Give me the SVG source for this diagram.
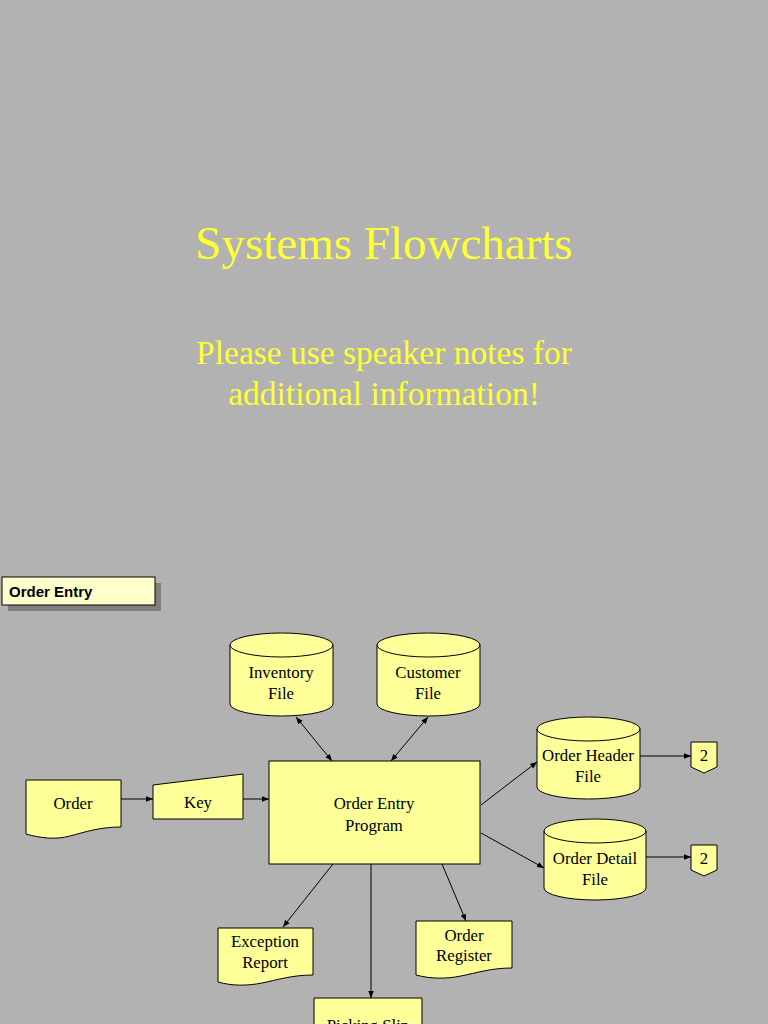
<svg xmlns="http://www.w3.org/2000/svg" width="768" height="1024" viewBox="0 0 768 1024">
<defs>
<style>
.n{fill:#ffff99;stroke:#000;stroke-width:1}
.t{font-family:"Liberation Serif",serif;font-size:16.8px;fill:#000;text-anchor:middle}
.c{stroke:#000;stroke-width:1;fill:none;marker-end:url(#a)}
.h{font-family:"Liberation Serif",serif;fill:#ffff33;text-anchor:middle}
</style>
<marker id="a" viewBox="0 0 10 10" refX="10" refY="5" markerWidth="7" markerHeight="7" orient="auto"><path d="M0,1 L10,5 L0,9 z" fill="#000"/></marker>
<marker id="b" viewBox="0 0 10 10" refX="0" refY="5" markerWidth="7" markerHeight="7" orient="auto"><path d="M10,1 L0,5 L10,9 z" fill="#000"/></marker>
</defs>
<rect width="768" height="1024" fill="#b2b2b2"/>
<text class="h" x="384" y="259" font-size="47">Systems Flowcharts</text>
<text class="h" x="384" y="364" font-size="33.5">Please use speaker notes for</text>
<text class="h" x="384" y="405" font-size="33.5">additional information!</text>

<g id="label">
<rect x="8" y="583" width="153" height="28" fill="#808080"/>
<rect x="2" y="577" width="153" height="28" fill="#ffffcc" stroke="#000"/>
<text x="9" y="597" font-family="Liberation Sans,sans-serif" font-size="15" font-weight="bold">Order Entry</text>
</g>

<g id="connectors">
<line class="c" x1="296" y1="717" x2="332" y2="761" marker-start="url(#b)"/>
<line class="c" x1="428" y1="717" x2="391" y2="761" marker-start="url(#b)"/>
<line class="c" x1="121" y1="799" x2="153" y2="799"/>
<line class="c" x1="243" y1="799" x2="269" y2="799"/>
<line class="c" x1="481" y1="805" x2="537" y2="762"/>
<line class="c" x1="481" y1="833" x2="544" y2="868"/>
<line class="c" x1="640" y1="756" x2="691" y2="756"/>
<line class="c" x1="646" y1="857" x2="691" y2="857"/>
<line class="c" x1="333" y1="864" x2="283" y2="927"/>
<line class="c" x1="371" y1="864" x2="371" y2="998"/>
<line class="c" x1="442" y1="864" x2="466" y2="921"/>
</g>

<g id="inventory">
<path class="n" d="M230,645 A51.5,12 0 0 1 333,645 L333,704 A51.5,12 0 0 1 230,704 Z"/>
<path d="M230,645 A51.5,12 0 0 0 333,645" fill="none" stroke="#000"/>
<text class="t" x="281" y="678">Inventory</text>
<text class="t" x="281" y="699">File</text>
</g>
<g id="customer">
<path class="n" d="M377,645 A51.5,12 0 0 1 480,645 L480,704 A51.5,12 0 0 1 377,704 Z"/>
<path d="M377,645 A51.5,12 0 0 0 480,645" fill="none" stroke="#000"/>
<text class="t" x="428" y="678">Customer</text>
<text class="t" x="428" y="699">File</text>
</g>
<g id="order">
<path class="n" d="M26,780 L121,780 L121,827 C100,827 85,832 70,836 C55,840 40,838 26,834 Z"/>
<text class="t" x="73" y="809" font-size="15">Order</text>
</g>
<g id="key">
<path class="n" d="M153,785 L243,774 L243,819 L153,819 Z"/>
<text class="t" x="198" y="808">Key</text>
</g>
<g id="program">
<rect class="n" x="269" y="761" width="211" height="103"/>
<text class="t" x="374" y="809">Order Entry</text>
<text class="t" x="374" y="831">Program</text>
</g>
<g id="header">
<path class="n" d="M537,729 A51.5,12 0 0 1 640,729 L640,787 A51.5,12 0 0 1 537,787 Z"/>
<path d="M537,729 A51.5,12 0 0 0 640,729" fill="none" stroke="#000"/>
<text class="t" x="588" y="761">Order Header</text>
<text class="t" x="588" y="782">File</text>
</g>
<g id="detail">
<path class="n" d="M544,831 A51,12 0 0 1 646,831 L646,888 A51,12 0 0 1 544,888 Z"/>
<path d="M544,831 A51,12 0 0 0 646,831" fill="none" stroke="#000"/>
<text class="t" x="595" y="864">Order Detail</text>
<text class="t" x="595" y="885">File</text>
</g>
<g id="off1">
<path class="n" d="M691,742 L717,742 L717,767 L704,773 L691,767 Z"/>
<text class="t" x="704" y="761">2</text>
</g>
<g id="off2">
<path class="n" d="M691,845 L717,845 L717,870 L704,876 L691,870 Z"/>
<text class="t" x="704" y="864">2</text>
</g>
<g id="exception">
<path class="n" d="M218,928 L313,928 L313,975 C292,975 277,980 262,983 C247,986 232,986 218,982 Z"/>
<text class="t" x="265" y="947">Exception</text>
<text class="t" x="265" y="968">Report</text>
</g>
<g id="register">
<path class="n" d="M416,921 L512,921 L512,968 C491,968 476,973 461,976 C446,979 431,979 416,975 Z"/>
<text class="t" x="464" y="941">Order</text>
<text class="t" x="464" y="961">Register</text>
</g>
<g id="picking">
<path class="n" d="M314,998 L422,998 L422,1030 L314,1030 Z"/>
<text class="t" x="368" y="1031">Picking Slip</text>
</g>
</svg>
